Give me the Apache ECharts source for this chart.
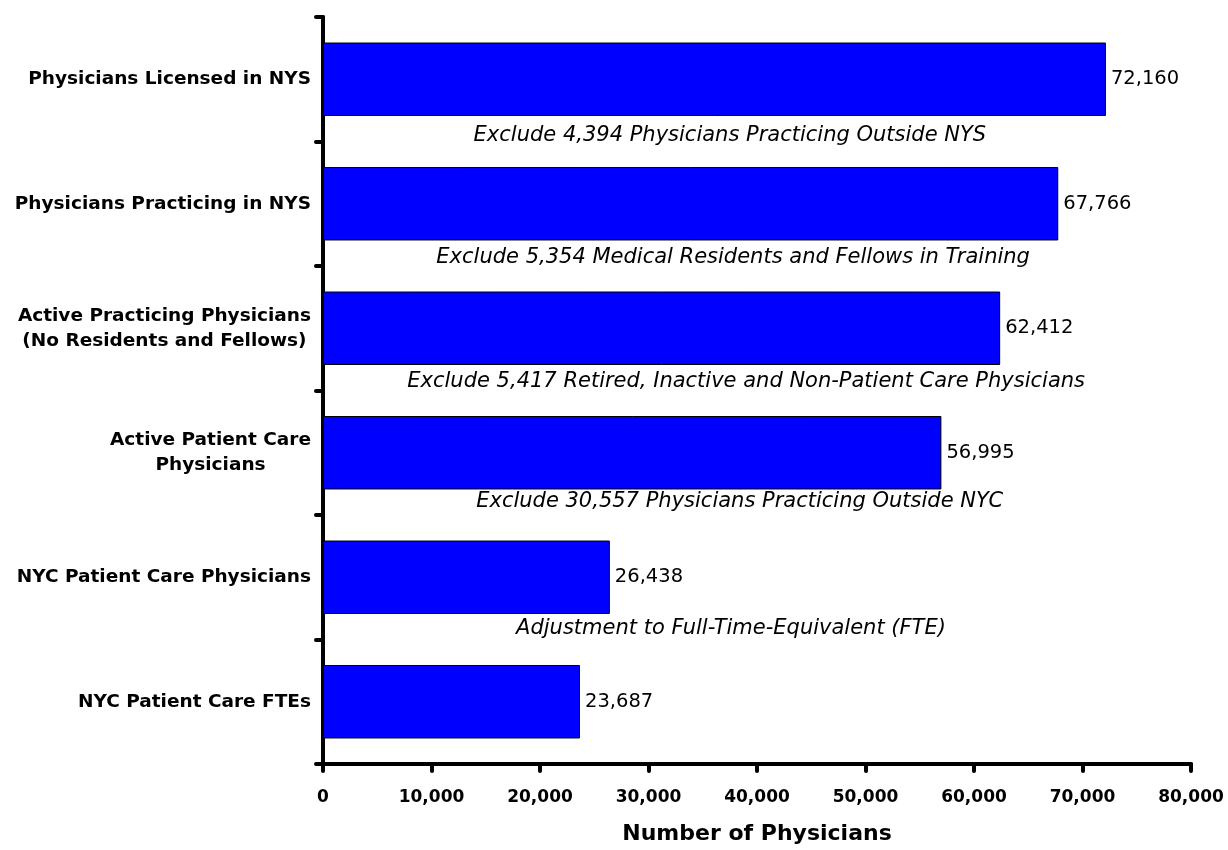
<!DOCTYPE html>
<html>
<head>
<meta charset="utf-8">
<script src="https://cdn.jsdelivr.net/npm/echarts@6/dist/echarts.min.js"></script>
<style>
html,body{margin:0;padding:0;background:#fff;}
#chart{width:1228px;height:850px;}
</style>
</head>
<body>
<div id="chart"></div>
<script>
const categories = [
  'Physicians Licensed in NYS',
  'Physicians Practicing in NYS',
  'Active Practicing Physicians\n(No Residents and Fellows)',
  'Active Patient Care\nPhysicians',
  'NYC Patient Care Physicians',
  'NYC Patient Care FTEs'
];
const values = [72160, 67766, 62412, 56995, 26438, 23687];
const annotations = [
  'Exclude 4,394 Physicians Practicing Outside NYS',
  'Exclude 5,354 Medical Residents and Fellows in Training',
  'Exclude 5,417 Retired, Inactive and Non-Patient Care Physicians',
  'Exclude 30,557 Physicians Practicing Outside NYC',
  'Adjustment to Full-Time-Equivalent (FTE)'
];
const annotationAt = [37500, 37800, 39000, 38400, 37600];
const xTicks = [0, 10000, 20000, 30000, 40000, 50000, 60000, 70000, 80000];

// layout only: vertical pixel offset of each annotation below its bar's band centre
const annotationDy = [56, 54, 53, 49, 51];

const FONT = 'DejaVu Sans';
const fmt = v => v.toString().replace(/\B(?=(\d{3})+(?!\d))/g, ',');

const chart = echarts.init(document.getElementById('chart'), null, {renderer: 'canvas'});
chart.setOption({
  animation: false,
  backgroundColor: '#ffffff',
  textStyle: {fontFamily: FONT},
  grid: {left: 323, right: 37, top: 17, bottom: 80, containLabel: false},
  xAxis: {
    type: 'value',
    min: xTicks[0],
    max: xTicks[xTicks.length - 1],
    interval: xTicks[1] - xTicks[0],
    splitLine: {show: false},
    axisLine: {show: true, lineStyle: {color: '#000', width: 4, cap: 'round'}},
    axisTick: {show: true, length: 7, lineStyle: {color: '#000', width: 4, cap: 'round'}},
    axisLabel: {
      margin: 25, color: '#000', fontWeight: 'bold', fontSize: 17, fontFamily: FONT,
      formatter: v => fmt(v)
    },
    name: 'Number of Physicians',
    nameLocation: 'middle',
    nameGap: 59,
    nameTextStyle: {color: '#000', fontWeight: 'bold', fontSize: 22, fontFamily: FONT}
  },
  yAxis: {
    type: 'category',
    data: categories,
    inverse: true,
    axisLine: {show: true, lineStyle: {color: '#000', width: 4, cap: 'round'}},
    axisTick: {show: true, length: 7, lineStyle: {color: '#000', width: 4, cap: 'round'}},
    axisLabel: {
      margin: 12, color: '#000', fontWeight: 'bold', fontSize: 18.5, fontFamily: FONT,
      align: 'right',
      formatter: v => v.split('\n').map(s => '{c|' + s + '}').join('\n'),
      rich: {c: {align: 'center', fontWeight: 'bold', fontSize: 18.5, fontFamily: FONT, color: '#000', lineHeight: 25}}
    }
  },
  series: [
    {
      type: 'bar',
      data: values,
      barCategoryGap: '41%',
      itemStyle: {color: '#0000FF', borderColor: '#000', borderWidth: 1},
      label: {
        show: true, position: 'right', distance: 5, color: '#000',
        fontSize: 19.5, fontFamily: FONT, formatter: p => fmt(p.value)
      }
    },
    {
      type: 'scatter',
      data: annotations.map((t, i) => ({
        value: [annotationAt[i], i],
        label: {offset: [0, annotationDy[i]]}
      })),
      symbolSize: 0,
      silent: true,
      itemStyle: {opacity: 1},
      label: {
        show: true, position: 'inside',
        color: '#000', opacity: 1, fontStyle: 'italic', fontSize: 21, fontFamily: FONT,
        formatter: p => annotations[p.dataIndex]
      }
    }
  ]
});
</script>
</body>
</html>
